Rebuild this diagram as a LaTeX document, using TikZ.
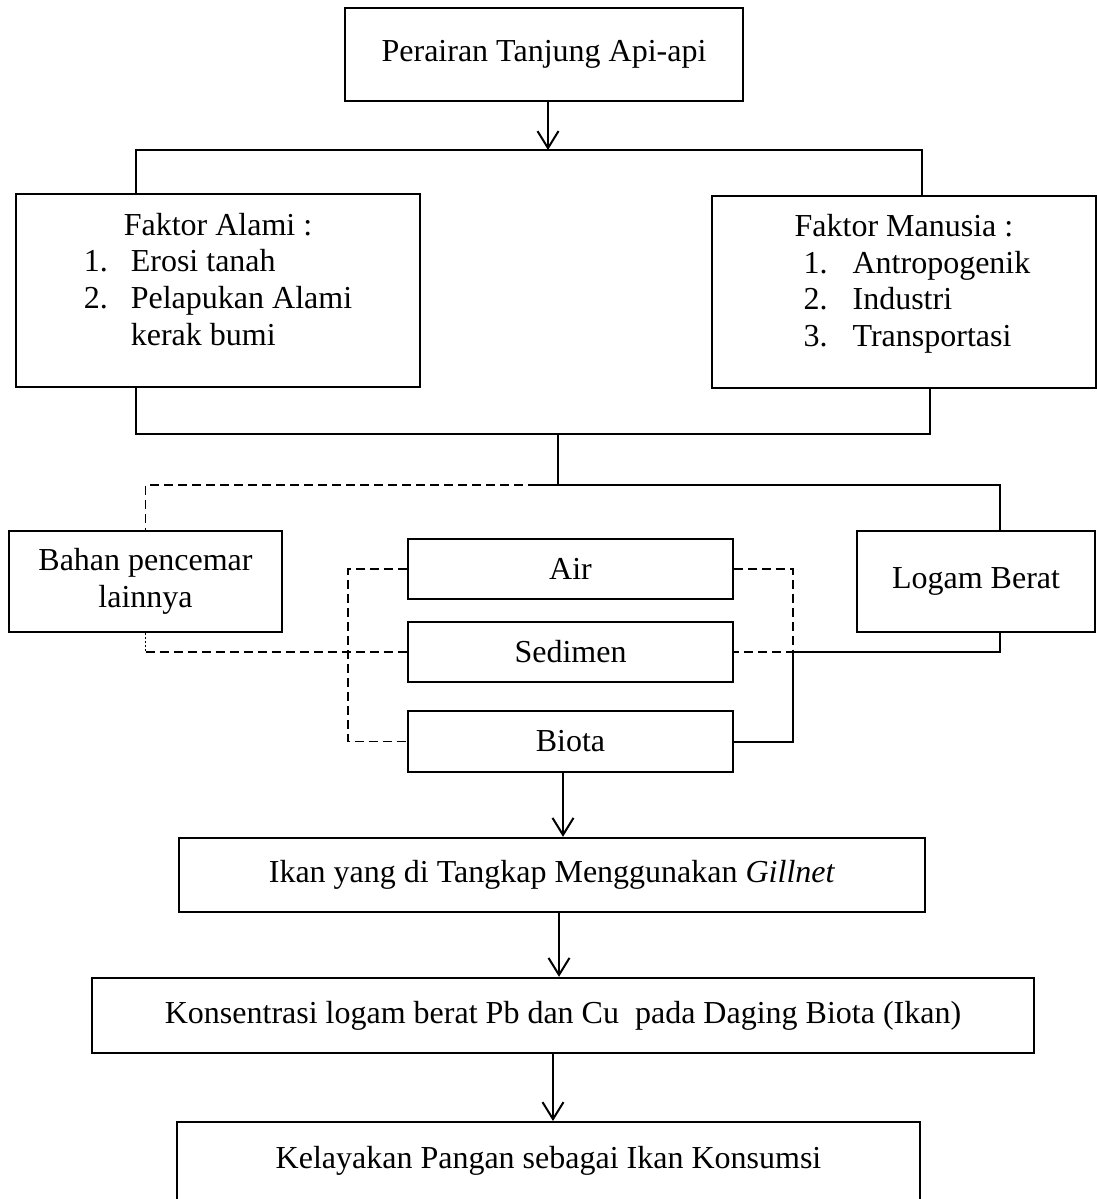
\documentclass[tikz,border=0pt]{standalone}
\usepackage{fontspec}
\setmainfont{Liberation Serif}
\usetikzlibrary{arrows.meta}

\tikzset{
  kotak/.style={draw, line width=2.4pt, inner sep=0pt, align=center},
  garis/.style={line width=2pt},
  putus/.style={line width=1.6pt, dash pattern=on 9pt off 5pt},
  titik/.style={line width=1.6pt, dash pattern=on 2pt off 2pt},
  panah/.style={garis, -{Straight Barb[length=17pt,width=21pt,line width=2pt]}}
}

\begin{document}
\begin{tikzpicture}[x=1pt,y=-1pt,font=\fontsize{32}{36.7}\selectfont]
\path[use as bounding box] (0,0) rectangle (1097,1199);

% kotak-kotak
\node[kotak, minimum width=398pt, minimum height=93pt] (perairan) at (544,54.5) {Perairan Tanjung Api-api};
\node[kotak, minimum width=404pt, minimum height=193pt] (alami) at (218,290.5) {Faktor Alami :\\
  \begin{tabular}[t]{@{}l@{\hspace{23pt}}l@{}}1. & Erosi tanah\\ 2. & Pelapukan Alami\\ & kerak bumi\rule[-23pt]{0pt}{23pt}\end{tabular}};
\node[kotak, minimum width=384pt, minimum height=192pt] (manusia) at (904,292) {Faktor Manusia :\\
  \hspace*{26pt}\begin{tabular}[t]{@{}l@{\hspace{25pt}}l@{}}1. & Antropogenik\\ 2. & Industri\\ 3. & Transportasi\rule[-23pt]{0pt}{23pt}\end{tabular}};
\node[kotak, minimum width=273pt, minimum height=101pt] (bahan) at (145.5,581.5) {Bahan pencemar\\lainnya};
\node[kotak, minimum width=238pt, minimum height=101pt] (logam) at (976,581.5) {Logam Berat};
\node[kotak, minimum width=325pt, minimum height=60pt] (air) at (570.5,569) {Air};
\node[kotak, minimum width=325pt, minimum height=60pt] (sedimen) at (570.5,652) {Sedimen};
\node[kotak, minimum width=325pt, minimum height=61pt] (biota) at (570.5,741.5) {Biota};
\node[kotak, minimum width=746pt, minimum height=74pt] (ikan) at (552,875) {Ikan yang di Tangkap Menggunakan \textit{Gillnet}};
\node[kotak, minimum width=942pt, minimum height=75pt] (konsen) at (563,1015.5) {Konsentrasi logam berat Pb dan Cu\ \ pada Daging Biota (Ikan)};
\node[kotak, minimum width=743pt, text height=46pt, text depth=80pt, anchor=north] (layak) at (548.5,1121) {Kelayakan Pangan sebagai Ikan Konsumsi};

% titik simpul
\coordinate (busA) at (548,150);
\coordinate (busAL) at (136,150);
\coordinate (busAR) at (922,150);
\coordinate (busBL) at (136,434);
\coordinate (busBR) at (930,434);
\coordinate (busB) at (558,434);
\coordinate (busC) at (558,485);
\coordinate (busCL) at (537,485);
\coordinate (busCR) at (1000,485);
\coordinate (kiri) at (348,0);
\coordinate (kanan) at (793,0);
\coordinate (jR) at (793,652);

% garis penghubung
\draw[panah] (perairan.south -| busA) -- (busA);
\draw[garis] (alami.north -| busAL) |- (busAR) -- (busAR |- manusia.north);
\draw[garis] (alami.south -| busBL) |- (busBR) -- (busBR |- manusia.south);
\draw[garis] (busB) -- (busC);
\draw[garis] (busCL) -- (busCR) -- (busCR |- logam.north);
\draw[putus] (busCL) -| (bahan.north);
\draw[titik] (bahan.south) -- (bahan.south |- sedimen.west);
\draw[putus] (bahan.south |- sedimen.west) -- (sedimen.west);
\draw[putus] (air.west) -- (air.west -| kiri) -- (biota.west -| kiri) -- (biota.west);
\draw[putus] (air.east) -- (air.east -| kanan) -- (jR) -- (sedimen.east);
\draw[garis] (biota.east) -| (jR) -| (logam.south -| busCR);
\draw[panah] ([xshift=-7.5pt]biota.south) -- ([xshift=11pt]ikan.north);
\draw[panah] ([xshift=7pt]ikan.south) -- ([xshift=-4pt]konsen.north);
\draw[panah] ([xshift=-10pt]konsen.south) -- ([xshift=4.5pt]layak.north);
\end{tikzpicture}
\end{document}
